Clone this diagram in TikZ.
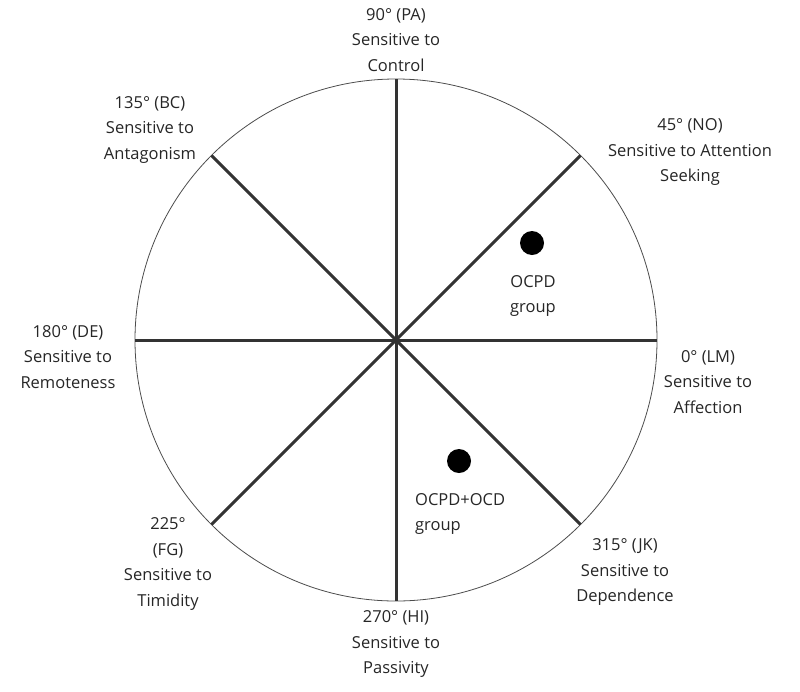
\documentclass[tikz,border=0pt]{standalone}
\usepackage{fontspec}
\setmainfont{Open Sans}
\usetikzlibrary{calc}
\begin{document}
\begin{tikzpicture}[x=1pt,y=-1pt,
  lbl/.style={font=\fontsize{16.5}{25.5}\selectfont, align=center, inner sep=0pt, text=black!85},
  spoke/.style={line width=3pt, draw=black!80},
  dot/.style={circle, fill=black, minimum size=24pt, inner sep=0pt}]
\useasboundingbox (0,0) rectangle (800,691);
\coordinate (c) at (396,340);
\draw[line width=0.8pt, black!70] (c) circle[radius=261];
\foreach \a/\n in {0/e,45/ne,90/n,135/nw,180/w,225/sw,270/s,315/se}
  \coordinate (\n) at ($(c)+(\a:261 and -261)$);
\draw[spoke] (e) -- (w);
\draw[spoke] (n) -- (s);
\draw[spoke] (ne) -- (sw);
\draw[spoke] (nw) -- (se);
\node[dot] (d1) at (532,243) {};
\node[dot] (d2) at (459,461) {};
\node[lbl] (t90) at (396,40) {90° (PA)\\Sensitive to\\Control};
\node[lbl] (t135) at (150,130) {135° (BC)\\Sensitive to\\Antagonism};
\node[lbl] (t45) at (690,152) {45° (NO)\\Sensitive to Attention\\Seeking};
\node[lbl] (g1) at (533,296) {OCPD\\group};
\node[lbl] (t180) at (68,357) {180° (DE)\\Sensitive to\\Remoteness};
\node[lbl] (t0) at (708,382) {0° (LM)\\Sensitive to\\Affection};
\node[lbl, align=left, anchor=west] (g2) at (415,514) {OCPD+OCD\\group};
\node[lbl] (t225) at (168,564) {225°\\(FG)\\Sensitive to\\Timidity};
\node[lbl] (t315) at (625,572) {315° (JK)\\Sensitive to\\Dependence};
\node[lbl] (t270) at (396,644) {270° (HI)\\Sensitive to\\Passivity};
\end{tikzpicture}
\end{document}
